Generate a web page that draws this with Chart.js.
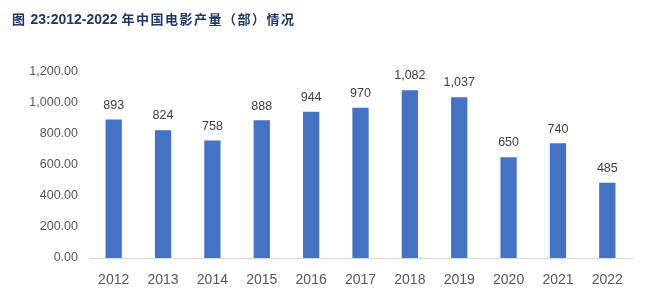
<!DOCTYPE html>
<html>
<head>
<meta charset="utf-8">
<script src="https://cdn.jsdelivr.net/npm/chart.js@4/dist/chart.umd.min.js"></script>
<style>
  html, body { margin: 0; padding: 0; background: #fff; }
  #wrap { position: relative; width: 663px; height: 303px; }
  #title { position: absolute; left: 12px; top: 9px; font: bold 14px "Liberation Sans", Arial, sans-serif; color: #1F3864; white-space: nowrap; }
  #title .cn { font-family: "Noto Sans CJK SC", sans-serif; font-size: 13px; letter-spacing: 1.5px; }
  canvas { position: absolute; left: 0; top: 0; }
</style>
</head>
<body>
<div id="wrap">
  <canvas id="c" width="663" height="303"></canvas>
  <div id="title"><span class="cn">图</span> 23:2012-2022 <span class="cn">年中国电影产量（部）情况</span></div>
</div>
<script>
const years = ['2012','2013','2014','2015','2016','2017','2018','2019','2020','2021','2022'];
const films = [893, 824, 758, 888, 944, 970, 1082, 1037, 650, 740, 485];
const yTicks = [0, 200, 400, 600, 800, 1000, 1200];

const labelPlugin = {
  id: 'barLabels',
  afterDatasetsDraw(chart) {
    const ctx = chart.ctx;
    const meta = chart.getDatasetMeta(0);
    ctx.save();
    ctx.font = '12.5px "Liberation Sans", Arial, sans-serif';
    ctx.fillStyle = '#404040';
    ctx.textAlign = 'center';
    ctx.textBaseline = 'bottom';
    meta.data.forEach((bar, i) => {
      ctx.fillText(films[i].toLocaleString('en-US'), bar.x, bar.y - 8);
    });
    ctx.restore();
  }
};

new Chart(document.getElementById('c'), {
  type: 'bar',
  data: {
    labels: years,
    datasets: [{
      data: films,
      backgroundColor: '#4472C4',
      borderWidth: 0,
      barPercentage: 0.33,
      categoryPercentage: 1.0
    }]
  },
  options: {
    responsive: false,
    animation: false,
    layout: { padding: { left: 0, right: 31, top: 72, bottom: 0 } },
    plugins: { legend: { display: false }, tooltip: { enabled: false }, title: { display: false } },
    scales: {
      x: {
        grid: { display: false },
        border: { display: true, color: '#D9D9D9', width: 1 },
        ticks: { color: '#595959', font: { size: 14, family: '"Liberation Sans", Arial, sans-serif' }, padding: 6 },
        afterFit(scale) { scale.height = 45; }
      },
      y: {
        min: 0, max: 1200,
        afterBuildTicks(scale) { scale.ticks = yTicks.map(v => ({ value: v })); },
        grid: { display: false },
        border: { display: false },
        ticks: {
          color: '#595959',
          font: { size: 12.5, family: '"Liberation Sans", Arial, sans-serif' },
          padding: 3,
          callback: v => Number(v).toLocaleString('en-US', { minimumFractionDigits: 2, maximumFractionDigits: 2 })
        },
        afterFit(scale) { scale.width = 89; }
      }
    }
  },
  plugins: [labelPlugin]
});
</script>
</body>
</html>
